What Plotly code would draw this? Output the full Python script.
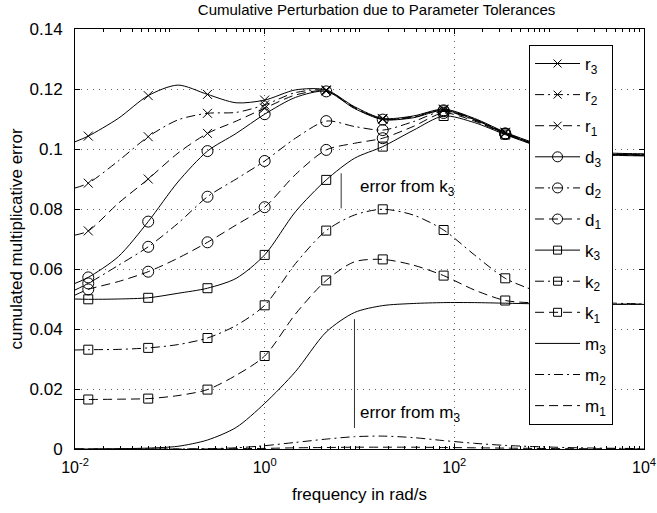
import math
import plotly.graph_objects as go

# frequency grid (rad/s) read along the x axis
FREQ = [0.01, 0.0138, 0.02858, 0.05916, 0.1216, 0.2495, 0.5012, 1.0, 2.113, 4.457,
        8.851, 17.58, 36.81, 77.09, 162.9, 344.4, 707.9, 1479, 3162, 6310, 10000]
MARK_IDX = [1, 3, 5, 7, 9, 11, 13, 15, 17]

r3 = [0.1024, 0.1043, 0.1102, 0.1178, 0.1213, 0.1182, 0.1154, 0.1163, 0.1197, 0.1197, 0.1141,
      0.1102, 0.1110, 0.1133, 0.1102, 0.1056, 0.1020, 0.0995, 0.0988, 0.0985, 0.0984]
r2 = [0.0870, 0.0886, 0.0960, 0.1041, 0.1097, 0.1119, 0.1122, 0.1147, 0.1188, 0.1195, 0.1139,
      0.1100, 0.1108, 0.1131, 0.1100, 0.1054, 0.1018, 0.0993, 0.0986, 0.0983, 0.0982]
r1 = [0.0713, 0.0727, 0.0819, 0.0900, 0.0986, 0.1052, 0.1093, 0.1136, 0.1180, 0.1193, 0.1137,
      0.1099, 0.1106, 0.1130, 0.1099, 0.1053, 0.1017, 0.0992, 0.0985, 0.0982, 0.0981]
d3 = [0.0552, 0.0572, 0.0641, 0.0758, 0.0890, 0.0993, 0.1052, 0.1116, 0.1172, 0.1192, 0.1135,
      0.1098, 0.1104, 0.1129, 0.1098, 0.1052, 0.1016, 0.0991, 0.0984, 0.0981, 0.0980]
d2 = [0.0530, 0.0552, 0.0612, 0.0674, 0.0752, 0.0841, 0.0900, 0.0960, 0.1036, 0.1093, 0.1075,
      0.1063, 0.1091, 0.1126, 0.1096, 0.1051, 0.1015, 0.0990, 0.0983, 0.0980, 0.0979]
d1 = [0.0513, 0.0532, 0.0558, 0.0591, 0.0636, 0.0689, 0.0747, 0.0806, 0.0915, 0.0997, 0.1019,
      0.1036, 0.1075, 0.1120, 0.1093, 0.1050, 0.1014, 0.0989, 0.0982, 0.0979, 0.0978]
k3 = [0.0500, 0.0499, 0.0500, 0.0504, 0.0519, 0.0536, 0.0569, 0.0647, 0.0791, 0.0897, 0.0969,
      0.1008, 0.1062, 0.1110, 0.1088, 0.1048, 0.1013, 0.0988, 0.0981, 0.0978, 0.0977]
k2 = [0.0330, 0.0331, 0.0332, 0.0337, 0.0348, 0.0370, 0.0412, 0.0479, 0.0618, 0.0728, 0.0780,
      0.0799, 0.0780, 0.0730, 0.0647, 0.0569, 0.0528, 0.0500, 0.0489, 0.0485, 0.0484]
k1 = [0.0165, 0.0165, 0.0166, 0.0168, 0.0178, 0.0198, 0.0246, 0.0310, 0.0450, 0.0562, 0.0624,
      0.0632, 0.0613, 0.0578, 0.0530, 0.0495, 0.0487, 0.0484, 0.0483, 0.0483, 0.0483]
m3 = [0.0, 0.0, 0.0001, 0.0003, 0.0009, 0.0030, 0.0072, 0.0152, 0.0258, 0.0390, 0.0455,
      0.0478, 0.0485, 0.0488, 0.0488, 0.0486, 0.0484, 0.0483, 0.0482, 0.0482, 0.0482]
m2 = [0.0, 0.0, 0.0, 0.0, 0.0, 0.0001, 0.0004, 0.0011, 0.0022, 0.0033, 0.0041,
      0.0043, 0.0038, 0.0028, 0.0019, 0.0012, 0.0008, 0.0005, 0.0003, 0.0002, 0.0001]
m1 = [0.0, 0.0, 0.0, 0.0, 0.0, 0.0, 0.0001, 0.0002, 0.0004, 0.0005, 0.0006,
      0.0006, 0.0006, 0.0005, 0.0004, 0.0003, 0.0002, 0.0001, 0.0001, 0.0, 0.0]

NAMES = ["r<sub>3</sub>", "r<sub>2</sub>", "r<sub>1</sub>",
         "d<sub>3</sub>", "d<sub>2</sub>", "d<sub>1</sub>",
         "k<sub>3</sub>", "k<sub>2</sub>", "k<sub>1</sub>",
         "m<sub>3</sub>", "m<sub>2</sub>", "m<sub>1</sub>"]
SERIES = [r3, r2, r1, d3, d2, d1, k3, k2, k1, m3, m2, m1]

# annotation bars and texts
K3_BAR_F, K3_BAR_Y = 6.41, (0.0802, 0.0919)
M3_BAR_F, M3_BAR_Y = 8.85, (0.0070, 0.0433)
K3_TEXT_F, K3_TEXT_Y = 9.6, 0.0869
M3_TEXT_F, M3_TEXT_Y = 9.6, 0.0118

SOLID = "solid"
DASH = "9px,5px"
DASHDOT = "9px,4px,2px,4px"
styles = [SOLID, DASHDOT, DASH] * 4
symbols = ["x-thin-open"] * 3 + ["circle-open"] * 3 + ["square-open"] * 3 + [None] * 3
sizes = [9] * 3 + [11] * 3 + [9] * 3 + [0] * 3

FONT = "Liberation Sans, Arial, Helvetica, sans-serif"

fig = go.Figure()
for i, (name, vals) in enumerate(zip(NAMES, SERIES)):
    dash = styles[i]
    fig.add_trace(go.Scatter(x=FREQ, y=vals, mode="lines", line=dict(color="black", width=1, dash=dash, shape="spline", smoothing=0.8),
                             showlegend=False, hoverinfo="skip", legendgroup=str(i)))
    if symbols[i]:
        fig.add_trace(go.Scatter(x=[FREQ[j] for j in MARK_IDX], y=[vals[j] for j in MARK_IDX], mode="markers",
                                 marker=dict(symbol=symbols[i], size=sizes[i], color="black", line=dict(color="black", width=1)),
                                 showlegend=False, hoverinfo="skip", legendgroup=str(i)))
        fig.add_trace(go.Scatter(x=[None], y=[None], mode="lines+markers", name=name, legendgroup=str(i),
                                 line=dict(color="black", width=1, dash=dash),
                                 marker=dict(symbol=symbols[i], size=sizes[i] - 1, color="black", line=dict(color="black", width=1))))
    else:
        fig.add_trace(go.Scatter(x=[None], y=[None], mode="lines", name=name, legendgroup=str(i),
                                 line=dict(color="black", width=1, dash=dash)))

for f, (y0, y1) in [(K3_BAR_F, K3_BAR_Y), (M3_BAR_F, M3_BAR_Y)]:
    fig.add_trace(go.Scatter(x=[f, f], y=[y0, y1], mode="lines", line=dict(color="#333333", width=1),
                             showlegend=False, hoverinfo="skip"))

fig.add_annotation(x=math.log10(K3_TEXT_F), y=K3_TEXT_Y, xref="x", yref="y", text="error from k<sub>3</sub>",
                   showarrow=False, xanchor="left", yanchor="middle", font=dict(size=17, color="black", family=FONT))
fig.add_annotation(x=math.log10(M3_TEXT_F), y=M3_TEXT_Y, xref="x", yref="y", text="error from m<sub>3</sub>",
                   showarrow=False, xanchor="left", yanchor="middle", font=dict(size=17, color="black", family=FONT))

XTICKS = [0.01, 1, 100, 10000]
XTICKTEXT = ["10<sup>-2</sup>", "10<sup>0</sup>", "10<sup>2</sup>", "10<sup>4</sup>"]
minor_vals = [m * 10 ** e for e in range(-2, 4) for m in range(2, 11)]

GRIDC = "rgba(0,0,0,0.6)"
fig.update_layout(
    width=657, height=513,
    margin=dict(l=75, r=13, t=29, b=64),
    paper_bgcolor="white", plot_bgcolor="white",
    font=dict(family=FONT, size=16, color="black"),
    title=dict(text="Cumulative Perturbation due to Parameter Tolerances", x=0.53, xref="paper", xanchor="center",
               y=1 - 10 / 513, yanchor="middle", font=dict(size=15, color="black")),
    showlegend=True,
    legend=dict(x=0.798, y=0.962, xanchor="left", yanchor="top", bgcolor="white", bordercolor="black",
                borderwidth=1, font=dict(size=17, color="black", family=FONT), tracegroupgap=6,
                itemwidth=45, traceorder="grouped"),
    xaxis=dict(type="log", range=[-2, 4], tickmode="array", tickvals=XTICKS, ticktext=XTICKTEXT,
               automargin=False,
               ticks="inside", ticklen=5, tickcolor="black", showline=True, linecolor="black", linewidth=1,
               mirror="ticks", showgrid=True, gridcolor=GRIDC, griddash="1px,5px", gridwidth=1,
               zeroline=False, tickfont=dict(size=16), ticklabelstandoff=4,
               minor=dict(tickmode="array", tickvals=minor_vals, ticks="inside", ticklen=3, tickcolor="black", showgrid=False),
               title=dict(text="frequency in rad/s", font=dict(size=17), standoff=12)),
    yaxis=dict(range=[0, 0.14], dtick=0.02, tick0=0, ticks="inside", ticklen=5, tickcolor="black",
               automargin=False,
               showline=True, linecolor="black", linewidth=1, mirror="ticks", showgrid=True,
               gridcolor=GRIDC, griddash="1px,5px", gridwidth=1, zeroline=False,
               tickfont=dict(size=17), ticklabelstandoff=8,
               title=dict(text="cumulated multiplicative error", font=dict(size=17), standoff=2)),
)

fig.write_html("out.html")
